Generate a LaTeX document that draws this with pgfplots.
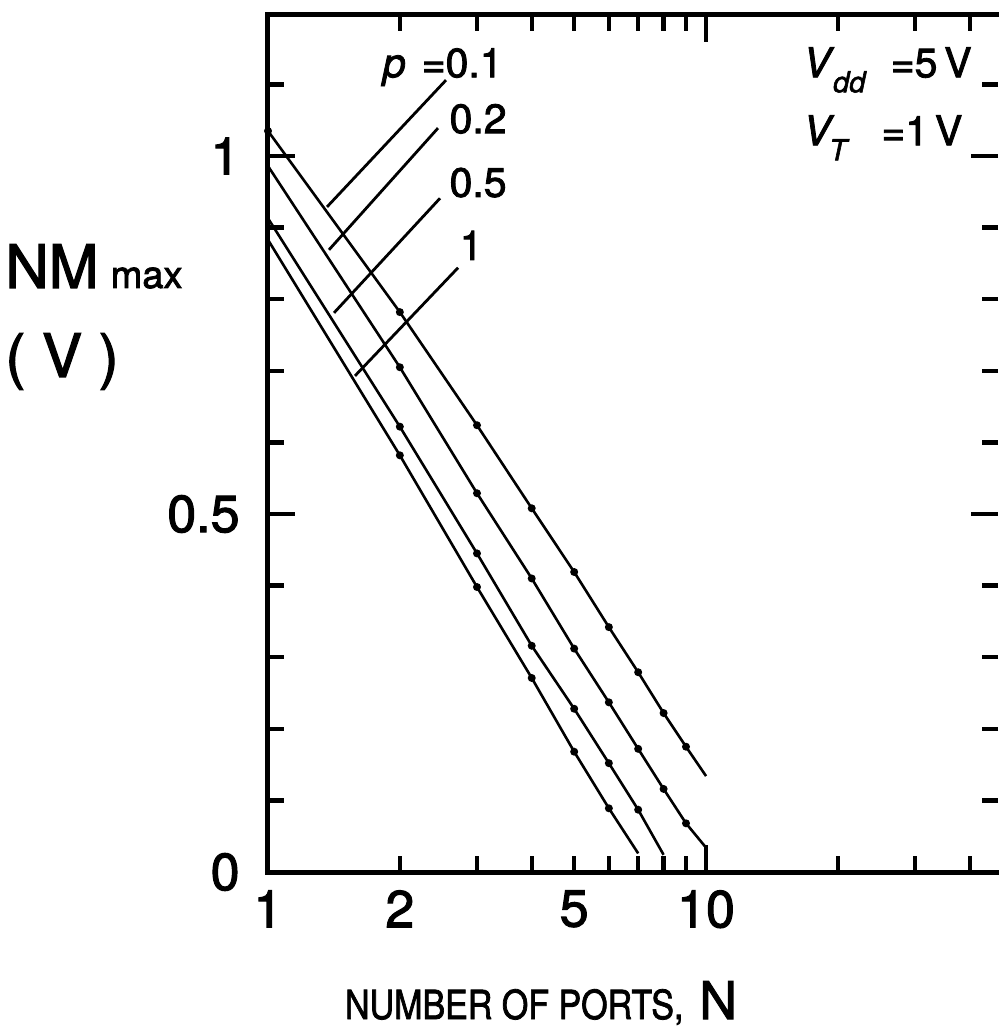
\documentclass[border=0pt]{standalone}
\usepackage{fontspec}
\setmainfont{TeX Gyre Heros}[FakeBold=2]
\usepackage{pgfplots}
\usepackage{pgfplotstable}
\pgfplotsset{compat=1.18}

% Maximum noise margin versus number of ports, one table per p
\pgfplotstableread{
N NM
1 1.035
2 0.782
3 0.624
4 0.508
5 0.419
6 0.342
7 0.279
8 0.222
9 0.175
10 0.134
}\pA
\pgfplotstableread{
N NM
1 0.986
2 0.705
3 0.529
4 0.410
5 0.312
6 0.237
7 0.172
8 0.116
9 0.068
10 0.034
}\pB
\pgfplotstableread{
N NM
1 0.913
2 0.622
3 0.445
4 0.316
5 0.228
6 0.152
7 0.087
8 0.024
}\pC
\pgfplotstableread{
N NM
1 0.883
2 0.582
3 0.398
4 0.271
5 0.168
6 0.089
7 0.026
}\pD

\newcommand{\lblfont}{\fontsize{20.5}{20.5}\selectfont}

\begin{document}
\begin{tikzpicture}
\begin{axis}[
  at={(0,0)}, anchor=south west,
  scale only axis, width=365pt, height=428.5pt,
  xmode=log, xmin=1, xmax=46.4, ymin=0, ymax=1.197,
  axis line style={draw=none},
  clip=false,
  xtick={1,10}, xticklabels={1,10},
  extra x ticks={2,5}, extra x tick labels={2,5},
  extra x tick style={major tick length=0pt},
  minor xtick={2,3,4,5,6,7,8,9,20,30,40},
  ytick={0,0.5,1}, yticklabels={0,0.5,1},
  minor ytick={0.1,0.2,0.3,0.4,0.6,0.7,0.8,0.9,1.1},
  tick align=inside,
  major tick length=13.5pt, minor tick length=8pt,
  tick style={black, line width=2.2pt},
  tick label style={font=\fontsize{26}{26}\selectfont, inner sep=0pt},
  xticklabel style={yshift=-9pt},
  yticklabel style={xshift=-14pt},
  curve/.style={black, line width=1.3pt, mark=*, mark size=1.3pt,
    mark options={black, fill=black}},
]
\addplot[curve, mark indices={1,2,3,4,5,6,7,8,9}] table[x=N, y=NM]{\pA};
\addplot[curve, mark indices={2,3,4,5,6,7,8,9}] table[x=N, y=NM]{\pB};
\addplot[curve, mark indices={2,3,4,5,6,7}] table[x=N, y=NM]{\pC};
\addplot[curve, mark indices={2,3,4,5,6}] table[x=N, y=NM]{\pD};

% frame: left, top and bottom sides
\draw[line width=2.5pt, line join=miter] (rel axis cs:1.02,1) -- (rel axis cs:0,1) -- (rel axis cs:0,0) -- (rel axis cs:1.02,0);

% curve labels with leader lines
\draw[line width=1.4pt] (axis cs:2.549,1.106) -- (axis cs:1.364,0.929);
\draw[line width=1.4pt] (axis cs:2.444,1.039) -- (axis cs:1.378,0.869);
\draw[line width=1.4pt] (axis cs:2.470,0.941) -- (axis cs:1.415,0.781);
\draw[line width=1.4pt] (axis cs:2.716,0.844) -- (axis cs:1.580,0.693);
\node[anchor=base east, inner sep=0pt, font=\lblfont] at (axis cs:3.44,1.110) {\textit{p}\hspace{8pt}=0.1};
\node[anchor=base east, inner sep=0pt, font=\lblfont] at (axis cs:3.513,1.032) {0.2};
\node[anchor=base east, inner sep=0pt, font=\lblfont] at (axis cs:3.513,0.943) {0.5};
\node[anchor=base east, inner sep=0pt, font=\lblfont] at (axis cs:3.097,0.855) {1};

% supply and threshold voltages
\node[anchor=base west, inner sep=0pt, font=\lblfont] at (axis cs:16.65,1.110)
  {\textit{V}\kern-0.5pt\raisebox{-7.5pt}{\fontsize{14.5}{14.5}\selectfont\textit{dd}}\hspace{12pt}=5\,V};
\node[anchor=base west, inner sep=0pt, font=\lblfont] at (axis cs:16.65,1.015)
  {\textit{V}\kern-2.5pt\raisebox{-7.5pt}{\fontsize{14.5}{14.5}\selectfont\textit{T}}\hspace{16pt}=1\,V};
\end{axis}

% axis titles
\begin{scope}[shift={(-134pt,436pt)}, x=0.5pt, y=-0.5pt]
  \node[anchor=base west, inner sep=0pt] at (5,288)
    {\fontsize{30}{30}\selectfont NM\hspace{6pt}{\fontsize{19}{19}\selectfont max}};
  \node[anchor=base west, inner sep=0pt] at (5,377)
    {\fontsize{30}{30}\selectfont ( V )};
  \node[anchor=base, inner sep=0pt] at (541,1019)
    {\scalebox{0.85}[1]{\fontsize{20}{20}\selectfont NUMBER OF PORTS,}\hspace{8pt}{\fontsize{26}{26}\selectfont N}};
\end{scope}

\pgfresetboundingbox
\path[use as bounding box] (-134pt,-79.5pt) rectangle (365pt,436pt);
\end{tikzpicture}
\end{document}
